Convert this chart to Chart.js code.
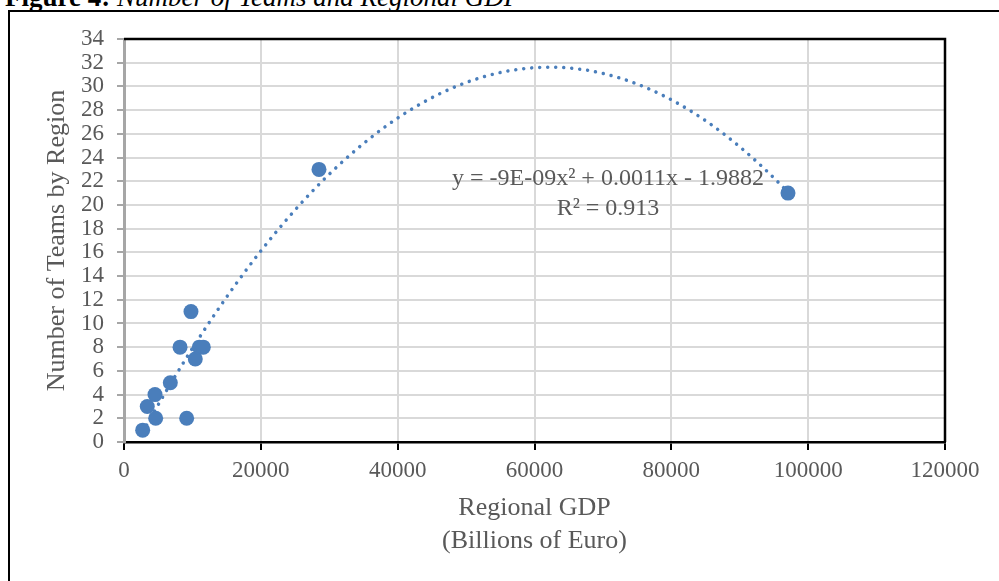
<!DOCTYPE html>
<html>
<head>
<meta charset="utf-8">
<title>Figure 4: Number of Teams and Regional GDP</title>
<script src="https://cdn.jsdelivr.net/npm/chart.js@4.4.0/dist/chart.umd.min.js"></script>
<style>
  body { margin: 0; background: #fff; overflow: hidden; }
  #wrap { position: relative; width: 999px; height: 581px; overflow: hidden; }
  #frame { position: absolute; left: 8px; top: 10px; width: 1200px; height: 800px;
           border: 2.5px solid #000; box-sizing: border-box; }
  #caption { position: absolute; left: 5px; top: -16px; white-space: nowrap;
             font: 27px/1 "Liberation Serif", serif; color: #000; }
  #chart { position: absolute; left: 0; top: 0; }
</style>
</head>
<body>
<div id="wrap">
  <div id="frame"></div>
  <div id="caption"><b>Figure 4:</b> <i>Number of Teams and Regional GDP</i></div>
  <canvas id="chart" width="999" height="581"></canvas>
</div>
<script>
// values
var gdp   = [2730, 3400, 4530, 4630, 6770, 8190, 9160, 9790, 10420, 11010, 11590, 28500, 97050];
var teams = [1, 3, 4, 2, 5, 8, 2, 11, 7, 8, 8, 23, 21];
var xTicks = [0, 20000, 40000, 60000, 80000, 100000, 120000];
var yMax = 34;
var eqText = 'y = -9E-09x\u00B2 + 0.0011x - 1.9882';
var r2Text = 'R\u00B2 = 0.913';

var SERIF = '"Liberation Serif", "Times New Roman", serif';
var GREY_TEXT = '#595959';
var BLUE = '#4a7ebb';

// polynomial (order 2) trendline, least squares on the points
function quadFit(xs, ys) {
    var s = [0, 0, 0, 0, 0], t = [0, 0, 0];
    for (var i = 0; i < xs.length; i++) {
        var x = xs[i] / 10000, p = 1;
        for (var k = 0; k < 5; k++) { s[k] += p; if (k < 3) t[k] += p * ys[i]; p *= x; }
    }
    var m = [[s[0], s[1], s[2], t[0]], [s[1], s[2], s[3], t[1]], [s[2], s[3], s[4], t[2]]];
    for (var c = 0; c < 3; c++) {
        for (var r = c + 1; r < 3; r++) {
            var f = m[r][c] / m[c][c];
            for (var j = c; j < 4; j++) m[r][j] -= f * m[c][j];
        }
    }
    var b = [0, 0, 0];
    for (var r2 = 2; r2 >= 0; r2--) {
        var v = m[r2][3];
        for (var j2 = r2 + 1; j2 < 3; j2++) v -= m[r2][j2] * b[j2];
        b[r2] = v / m[r2][r2];
    }
    return function (x) { var u = x / 10000; return b[0] + b[1] * u + b[2] * u * u; };
}

var fit = quadFit(gdp, teams);
var xMin = Math.min.apply(null, gdp), xMax = Math.max.apply(null, gdp);
var trend = [];
for (var n = 0; n <= 300; n++) {
    var xv = xMin + (xMax - xMin) * n / 300;
    trend.push({ x: xv, y: fit(xv) });
}

var points = gdp.map(function (g, i) { return { x: g, y: teams[i] }; });

var plotFrame = {
    id: 'plotFrame',
    beforeDatasetsDraw: function (chart) {
        var ctx = chart.ctx, a = chart.chartArea;
        ctx.save();
        ctx.strokeStyle = '#000';
        ctx.lineWidth = 2.5;
        ctx.beginPath();
        ctx.moveTo(a.left, a.top);
        ctx.lineTo(a.right, a.top);
        ctx.lineTo(a.right, a.bottom);
        ctx.stroke();
        ctx.restore();
    },
    afterDatasetsDraw: function (chart) {
        var ctx = chart.ctx, a = chart.chartArea;
        ctx.save();
        ctx.font = '24px ' + SERIF;
        ctx.fillStyle = GREY_TEXT;
        ctx.textAlign = 'center';
        ctx.textBaseline = 'middle';
        ctx.fillText(eqText, a.left + 484, a.top + 140);
        ctx.fillText(r2Text, a.left + 484, a.top + 170);
        ctx.restore();
    }
};

new Chart(document.getElementById('chart'), {
    type: 'scatter',
    data: {
        datasets: [{
            label: 'Teams',
            data: points,
            backgroundColor: BLUE,
            borderWidth: 0,
            pointRadius: 7.5,
            pointHoverRadius: 7.5,
            order: 1
        }, {
            type: 'line',
            label: 'Poly. (Teams)',
            data: trend,
            borderColor: BLUE,
            borderWidth: 3.5,
            borderDash: [0.01, 8],
            borderCapStyle: 'round',
            pointRadius: 0,
            tension: 0,
            fill: false,
            order: 2
        }]
    },
    options: {
        responsive: false,
        animation: false,
        layout: { padding: { top: 39, right: 54, left: 0, bottom: 0 } },
        plugins: { legend: { display: false }, tooltip: { enabled: false } },
        scales: {
            x: {
                type: 'linear',
                min: xTicks[0],
                max: xTicks[xTicks.length - 1],
                afterFit: function (s) { s.height = 139; },
                afterBuildTicks: function (s) { s.ticks = xTicks.map(function (v) { return { value: v }; }); },
                ticks: {
                    autoSkip: false,
                    maxRotation: 0,
                    padding: 7,
                    color: GREY_TEXT,
                    font: { family: SERIF, size: 23 },
                    callback: function (v) { return String(v); }
                },
                grid: { color: '#d9d9d9', lineWidth: 2, tickColor: '#000', tickLength: 8, tickWidth: 2 },
                border: { color: '#000', width: 2.5 },
                title: {
                    display: true,
                    text: ['Regional GDP', '(Billions of Euro)'],
                    color: GREY_TEXT,
                    font: { family: SERIF, size: 26, lineHeight: 1.27 },
                    padding: { top: 0, bottom: 23 }
                }
            },
            y: {
                min: 0,
                max: yMax,
                afterFit: function (s) { s.width = 124; },
                ticks: {
                    stepSize: 2,
                    autoSkip: false,
                    padding: 13,
                    color: GREY_TEXT,
                    font: { family: SERIF, size: 23 }
                },
                grid: { color: '#d9d9d9', lineWidth: 2, tickColor: '#a6a6a6', tickLength: 7, tickWidth: 2 },
                border: { color: '#a6a6a6', width: 3 },
                title: {
                    display: true,
                    text: 'Number of Teams by Region',
                    color: GREY_TEXT,
                    font: { family: SERIF, size: 26 },
                    padding: { top: 42, bottom: 0 }
                }
            }
        }
    },
    plugins: [plotFrame]
});
</script>
</body>
</html>
